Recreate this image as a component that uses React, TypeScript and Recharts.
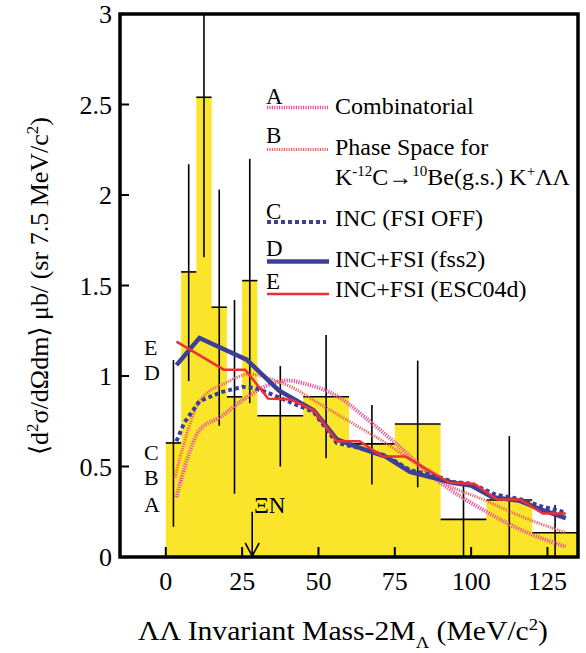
import React from 'react';
import {
  ComposedChart, XAxis, YAxis, Area, Line, Scatter, ErrorBar,
  ReferenceLine, ReferenceDot, ReferenceArea,
} from 'recharts';

// Histogram bins (MeV/c^2)
const binLow = [0, 5, 10, 15, 20, 25, 30, 45, 60, 75, 90, 105, 120];
const binHigh = [5, 10, 15, 20, 25, 30, 45, 60, 75, 90, 105, 120, 135];
const binValue = [0.63, 1.575, 2.54, 1.38, 0.885, 1.527, 0.78, 0.885, 0.625, 0.735, 0.208, 0.315, 0.134];
const errTop = [1.088, 2.17, 3.0, 2.03, 1.42, 2.2, 1.055, 1.226, 0.84, 1.085, 0.416, 0.668, 0.287];
const errBottom = [0.167, 0.972, 1.656, 0.725, 0.35, 0.85, 0.5, 0.545, 0.4, 0.385, 0, 0, 0];

// Curve A: Combinatorial
const aX = [3.5, 7, 11, 18, 25, 31, 40, 46, 53, 57, 65, 74.5, 90, 105, 117, 131];
const aY = [0.33, 0.54, 0.7, 0.775, 0.865, 0.93, 0.975, 0.955, 0.915, 0.88, 0.775, 0.64, 0.41, 0.25, 0.145, 0.057];
// Curve B: Phase space
const bX = [3, 6, 11, 20, 27.5, 35, 41, 50, 61, 72, 84, 90, 105, 117, 131];
const bY = [0.44, 0.63, 0.86, 0.965, 1.01, 0.98, 0.94, 0.85, 0.74, 0.63, 0.49, 0.42, 0.31, 0.22, 0.135];
// Curve C: INC (FSI OFF)
const cX = [3.5, 6, 11, 18, 25, 29, 33, 38, 48.5, 56, 64, 72, 80, 88, 94, 100, 108, 116, 123, 131];
const cY = [0.64, 0.74, 0.86, 0.91, 0.94, 0.935, 0.91, 0.875, 0.8, 0.63, 0.6, 0.56, 0.48, 0.45, 0.415, 0.405, 0.345, 0.32, 0.28, 0.245];
// Curve D: INC+FSI (fss2)
const dX = [3.5, 11, 26.5, 37, 48.5, 56, 64, 72, 80, 87, 94, 100, 107, 116, 122.5, 131];
const dY = [1.06, 1.21, 1.09, 0.92, 0.81, 0.65, 0.6, 0.555, 0.47, 0.44, 0.41, 0.395, 0.33, 0.31, 0.265, 0.215];
// Curve E: INC+FSI (ESC04d)
const eX = [3.5, 19, 26, 33.5, 41, 48.5, 56, 63.5, 71, 78.5, 93, 101, 108.5, 116, 123.5, 131];
const eY = [1.19, 1.035, 1.035, 0.875, 0.87, 0.81, 0.64, 0.64, 0.555, 0.555, 0.41, 0.405, 0.318, 0.318, 0.24, 0.24];

const xTicks = [0, 25, 50, 75, 100, 125];
const yTicks = [0, 0.5, 1, 1.5, 2, 2.5, 3];
const xiNThreshold = 28.3;

const histData = [...binLow, binHigh[binHigh.length - 1]].map((x, i) => ({
  x,
  y: binValue[Math.min(i, binValue.length - 1)],
}));
const errData = binLow.map((lo, i) => ({
  x: (lo + binHigh[i]) / 2,
  y: binValue[i],
  ex: (binHigh[i] - lo) / 2,
  ey: [binValue[i] - errBottom[i], errTop[i] - binValue[i]],
}));
const toPts = (xs: number[], ys: number[]) => xs.map((x, i) => ({ x, y: ys[i] }));

const SERIF = "Liberation Serif, Times New Roman, DejaVu Serif, serif";
const YELLOW = '#fbe52b';
const COL_A = '#e9519c';
const COL_B = '#f0625e';
const COL_BLUE = '#3b3f97';
const COL_E = '#ee2f36';

const Overlay = () => (
  <svg width={586} height={653} style={{ position: 'absolute', left: 0, top: 0, pointerEvents: 'none' }}
    fontFamily={SERIF} fill="#000">
    {/* legend */}
    <text x={266} y={104} fontSize={23}>A</text>
    <line x1={267} x2={328} y1={107.5} y2={107.5} stroke={COL_A} strokeWidth={3.5} strokeDasharray="1.2 1.2" />
    <text x={335} y={114} fontSize={24}>Combinatorial</text>

    <text x={266} y={143} fontSize={23}>B</text>
    <line x1={267} x2={328} y1={149.5} y2={149.5} stroke={COL_B} strokeWidth={3} strokeDasharray="1.2 1.2" />
    <text x={335} y={155} fontSize={24}>Phase Space for</text>
    <text x={335} y={185} fontSize={24}>
      K<tspan fontSize={15} dy={-9}>-12</tspan><tspan dy={9}>C→</tspan><tspan fontSize={15} dy={-9}>10</tspan><tspan dy={9}>Be(g.s.) K</tspan><tspan fontSize={15} dy={-9}>+</tspan><tspan dy={9}>ΛΛ</tspan>
    </text>

    <text x={266} y={219} fontSize={23}>C</text>
    <line x1={267} x2={326} y1={222} y2={222} stroke={COL_BLUE} strokeWidth={4} strokeDasharray="4 3" />
    <text x={335} y={226} fontSize={24}>INC (FSI OFF)</text>

    <text x={266} y={256} fontSize={23}>D</text>
    <line x1={267} x2={329} y1={261.5} y2={261.5} stroke={COL_BLUE} strokeWidth={4.5} />
    <text x={335} y={266.5} fontSize={24}>INC+FSI (fss2)</text>

    <text x={266} y={288.5} fontSize={23}>E</text>
    <line x1={267} x2={329} y1={294} y2={294} stroke={COL_E} strokeWidth={2.5} />
    <text x={335} y={297} fontSize={24}>INC+FSI (ESC04d)</text>

    {/* curve letters */}
    <text x={144} y={355} fontSize={22}>E</text>
    <text x={144} y={380} fontSize={22}>D</text>
    <text x={144} y={460} fontSize={22}>C</text>
    <text x={144} y={485} fontSize={22}>B</text>
    <text x={144} y={512} fontSize={22}>A</text>
    <text x={254} y={513} fontSize={23}>ΞN</text>

    {/* axis titles */}
    <text x={138} y={640} fontSize={27} textLength={410} lengthAdjust="spacingAndGlyphs">
      ΛΛ Invariant Mass-2M<tspan fontSize={17} dy={8}>Λ</tspan><tspan dy={-8}> (MeV/c</tspan><tspan fontSize={17} dy={-10}>2</tspan><tspan dy={10}>)</tspan>
    </text>
    <text transform="translate(48,286) rotate(-90)" x={0} y={0} fontSize={26} textAnchor="middle">
      ⟨d<tspan fontSize={17} dy={-10}>2</tspan><tspan dy={10}>σ/dΩdm⟩ μb/ (sr 7.5 MeV/c</tspan><tspan fontSize={17} dy={-10}>2</tspan><tspan dy={10}>)</tspan>
    </text>
  </svg>
);

export default function App() {
  const tickStyle = { fontSize: 26, fill: '#000', fontFamily: SERIF };
  return (
    <div style={{ position: 'absolute', left: 0, top: 0, width: 586, height: 653, background: '#fff' }}>
      <ComposedChart width={586} height={653} margin={{ top: 14, right: 8, left: 0, bottom: 0 }}>
        <XAxis type="number" dataKey="x" domain={[-15, 135]} ticks={xTicks} allowDataOverflow
          height={96} tickSize={-10} tickMargin={25} axisLine={false}
          tickLine={{ stroke: '#000', strokeWidth: 2 }} tick={tickStyle} interval={0} />
        <YAxis type="number" dataKey="y" domain={[0, 3]} ticks={yTicks} allowDataOverflow
          width={120} tickSize={-9} tickMargin={17} axisLine={false}
          tickLine={{ stroke: '#000', strokeWidth: 2 }} tick={tickStyle} interval={0} />
        <Area data={histData} dataKey="y" type="stepAfter" fill={YELLOW} fillOpacity={1}
          stroke="none" isAnimationActive={false} />
        <Scatter data={errData} dataKey="y" isAnimationActive={false} shape={() => <g />}>
          <ErrorBar dataKey="ey" direction="y" width={0} stroke="#000" strokeWidth={1.6} />
          <ErrorBar dataKey="ex" direction="x" width={0} stroke="#000" strokeWidth={1.6} />
        </Scatter>
        <Line data={toPts(aX, aY)} dataKey="y" type="monotone" stroke={COL_A} strokeWidth={4}
          strokeDasharray="1.2 1.2" dot={false} isAnimationActive={false} />
        <Line data={toPts(bX, bY)} dataKey="y" type="monotone" stroke={COL_B} strokeWidth={3}
          strokeDasharray="1.2 1.2" dot={false} isAnimationActive={false} />
        <Line data={toPts(cX, cY)} dataKey="y" type="linear" stroke={COL_BLUE} strokeWidth={4}
          strokeDasharray="4 3" dot={false} isAnimationActive={false} />
        <Line data={toPts(dX, dY)} dataKey="y" type="linear" stroke={COL_BLUE} strokeWidth={4.5}
          dot={false} isAnimationActive={false} />
        <Line data={toPts(eX, eY)} dataKey="y" type="linear" stroke={COL_E} strokeWidth={2.5}
          dot={false} isAnimationActive={false} />
        <ReferenceLine segment={[{ x: xiNThreshold, y: 0.25 }, { x: xiNThreshold, y: 0 }]}
          stroke="#000" strokeWidth={1.6} />
        <ReferenceDot x={xiNThreshold} y={0} r={0} isFront
          shape={(p: any) => (
            <path d={`M${p.cx - 7},${p.cy - 14} L${p.cx},${p.cy - 1} L${p.cx + 7},${p.cy - 14}`}
              stroke="#000" strokeWidth={1.6} fill="none" />
          )} />
        <ReferenceArea x1={-15} x2={135} y1={0} y2={3} fill="none" stroke="#000" strokeWidth={3.5}
          fillOpacity={0} isFront />
      </ComposedChart>
      <Overlay />
    </div>
  );
}
